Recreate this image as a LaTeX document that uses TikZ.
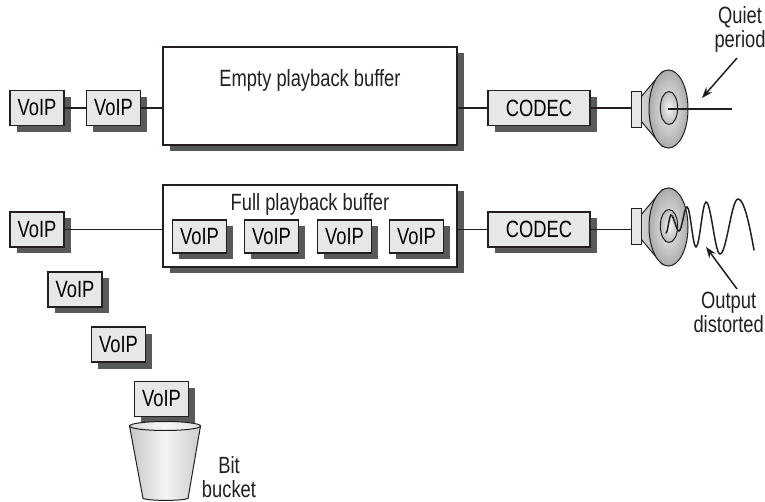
\documentclass[tikz,border=0pt]{standalone}
\usepackage{fontspec}
\setmainfont{Liberation Sans}[FakeStretch=0.78]
\usetikzlibrary{shadows,arrows.meta,shapes.geometric}
\definecolor{boxgray}{HTML}{E6E7E8}
\definecolor{shadowgray}{HTML}{58595B}
\definecolor{inkline}{HTML}{231F20}
\tikzset{
  boxshadow/.style={general shadow={fill=shadowgray, shadow xshift=6.5pt, shadow yshift=-6.5pt}},
  packet/.style={draw=inkline, fill=boxgray, line width=1.4pt, minimum width=54, minimum height=35,
    inner sep=0pt, boxshadow},
  codecbox/.style={packet, minimum width=102},
  bufferbox/.style={draw=inkline, fill=white, line width=1.4pt, minimum width=294, inner sep=0pt, boxshadow},
  wire/.style={draw=inkline, line width=1.6pt},
  pointer/.style={draw=inkline, line width=1.5pt, -{Stealth[length=11pt,width=8pt]}},
  label/.style={text=inkline, inner sep=0pt, align=center},
  magnet/.style={draw=inkline, fill=boxgray, line width=1pt, minimum width=10, minimum height=36, inner sep=0pt},
}
\newcommand{\drawcone}[2]{% #1 = x of magnet right edge, #2 = centre y
  \fill[left color=gray!35, right color=gray!60, draw=inkline, line width=1pt]
    (#1,#2-12) -- (#1+21,#2-37) -- (#1+21,#2+37) -- (#1,#2+12) -- cycle;
  \shade[inner color=gray!12, outer color=gray!66, draw=inkline, line width=1pt]
    (#1+27.5,#2) ellipse [x radius=19.5, y radius=39];
  \shade[inner color=gray!8, outer color=gray!52, draw=inkline, line width=1pt]
    (#1+28,#2-1) ellipse [x radius=8.7, y radius=16.5];
}
\begin{document}
\begin{tikzpicture}[x=1pt, y=-1pt, node font=\fontsize{23.5}{27}\selectfont]
\useasboundingbox (0,0) rectangle (765,502);

% ---------- upper chain: empty buffer ----------
\node[packet] (v1) at (37,108) {VoIP};
\node[packet] (v2) at (113.5,108) {VoIP};
\node[bufferbox, minimum height=98] (ebuf) at (310,96) {};
\node[label, anchor=base] (etitle) at (310,87) {Empty playback buffer};
\node[codecbox] (c1) at (539,108) {CODEC};

\drawcone{641}{109}
\node[magnet] (m1) at (636,110) {};
\coordinate (s1) at (668,109);
\coordinate (q1) at (732,109);
\draw[wire] (s1) -- (q1);

\draw[wire] (v1.east) -- (v2.west);
\draw[wire] (v2.east) -- (v2.east -| ebuf.west);
\draw[wire] (ebuf.east |- c1.west) -- (c1.west);
\draw[wire] (c1.east) -- (c1.east -| m1.west);

\node[label, anchor=north] (quiet) at (740,6) {Quiet\\[-3pt]period};
\coordinate (qtip) at (702,98);
\draw[pointer] (737,58) -- (qtip);

% ---------- lower chain: full buffer ----------
\node[packet] (v3) at (37,229.5) {VoIP};
\node[bufferbox, minimum height=82] (fbuf) at (310,226) {};
\node[label, anchor=base] (ftitle) at (310,211) {Full playback buffer};
\node[packet, minimum height=33] (b1) at (199.5,236.5) {VoIP};
\node[packet, minimum height=33] (b2) at (271.5,236.5) {VoIP};
\node[packet, minimum height=33] (b3) at (344.5,236.5) {VoIP};
\node[packet, minimum height=33] (b4) at (416.5,236.5) {VoIP};
\node[codecbox] (c2) at (539,229.5) {CODEC};

\drawcone{641}{227}
\node[magnet] (m2) at (636,227) {};

\draw[wire] (v3.east) -- (v3.east -| fbuf.west);
\draw[wire] (fbuf.east |- c2.west) -- (c2.west);
\draw[wire] (c2.east) -- (c2.east -| m2.west);

% distorted output wave: half-cosine arcs of growing width and height
\draw[inkline, line width=1.5pt, line cap=round]
  (666,233) .. controls (667.8,233) and (669.2,215) .. (671,215)
  .. controls (673.9,215) and (676.1,231) .. (679,231)
  .. controls (681.9,231) and (684.1,207) .. (687,207)
  .. controls (690.3,207) and (692.7,247) .. (696,247)
  .. controls (699.6,247) and (702.4,202) .. (706,202)
  .. controls (711.1,202) and (714.9,254) .. (720,254)
  .. controls (726.6,254) and (731.4,199) .. (738,199)
  .. controls (744.5,199) and (750,228) .. (754,250);

\node[label, anchor=north east] (dist) at (764,292) {Output\\[-3pt]distorted};
\coordinate (dtip) at (706,247);
\draw[pointer] (737,289) -- (dtip);

% ---------- packets dropped into the bit bucket ----------
\node[packet] (v4) at (75,289.5) {VoIP};
\node[packet] (v5) at (118.5,344.5) {VoIP};
\node[packet] (v6) at (161.5,399) {VoIP};

\shade[left color=gray!45, right color=gray!40, middle color=gray!8, draw=inkline, line width=1pt]
  (129.5,426) -- (143,498.5) .. controls (150,501) and (181,501) .. (188,498.5) -- (200.5,426) -- cycle;
\shade[left color=gray!30, right color=gray!25, middle color=gray!5, draw=inkline, line width=1pt]
  (165,426) ellipse [x radius=35.5, y radius=4.5];
\node[label] (bucket) at (229,477) {Bit\\[-3pt]bucket};

\end{tikzpicture}
\end{document}
